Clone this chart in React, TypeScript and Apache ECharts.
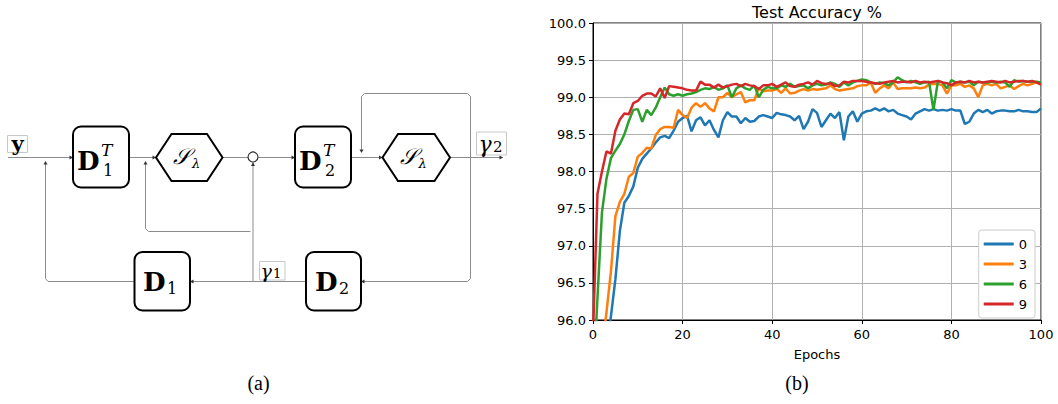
import React, { useEffect, useRef } from "react";
import * as echarts from "echarts";

const epochs: number[] = Array.from({ length: 101 }, (_, i) => i);
const seriesNames = ["0", "3", "6", "9"];
const seriesColors = ["#1f77b4", "#ff7f0e", "#2ca02c", "#d62728"];

const acc0 = [
  93.5, 94.3, 94.9, 95.5, 96.05, 96.55, 97.2, 97.58, 97.67, 97.8,
  98.05, 98.17, 98.24, 98.31, 98.39, 98.46, 98.48, 98.45, 98.55, 98.67,
  98.72, 98.75, 98.54, 98.69, 98.73, 98.62, 98.69, 98.56, 98.46, 98.69,
  98.8, 98.74, 98.74, 98.65, 98.72, 98.67, 98.68, 98.74, 98.76, 98.74,
  98.72, 98.79, 98.77, 98.76, 98.74, 98.69, 98.75, 98.57, 98.67, 98.84,
  98.79, 98.6, 98.69, 98.78, 98.72, 98.8, 98.42, 98.74, 98.81, 98.67,
  98.78, 98.81, 98.82, 98.85, 98.82, 98.85, 98.81, 98.83, 98.78, 98.76,
  98.74, 98.7, 98.78, 98.81, 98.84, 98.82, 98.84, 98.82, 98.83, 98.82,
  98.84, 98.82, 98.82, 98.64, 98.67, 98.78, 98.83, 98.8, 98.83, 98.78,
  98.81, 98.82, 98.82, 98.81, 98.81, 98.83, 98.81, 98.81, 98.8, 98.8, 98.85,
];
const acc3 = [
  94.0, 94.8, 95.6, 96.1, 96.65, 97.4, 97.59, 97.7, 97.93, 97.98,
  98.2, 98.25, 98.32, 98.31, 98.49, 98.57, 98.6, 98.6, 98.59, 98.83,
  98.76, 98.72, 98.86, 98.92, 98.87, 98.92, 98.85, 98.81, 99.0, 99.0,
  99.06, 99.0, 99.04, 99.07, 98.93, 98.96, 98.96, 99.12, 99.08, 99.09,
  99.09, 99.11, 99.06, 99.12, 99.05, 99.06, 99.09, 99.11, 99.09, 99.11,
  99.1, 99.11, 99.12, 99.16, 99.11, 99.09, 99.1, 99.11, 99.12, 99.15,
  99.16, 99.16, 99.2, 99.06, 99.12, 99.16, 99.12, 99.2, 99.11, 99.12,
  99.12, 99.12, 99.13, 99.12, 99.13, 99.17, 99.18, 99.18, 99.16, 99.05,
  99.16, 99.16, 99.18, 99.14, 99.16, 99.12, 99.0, 99.16, 99.18, 99.16,
  99.18, 99.12, 99.14, 99.16, 99.11, 99.15, 99.18, 99.16, 99.18, 99.2, 99.18,
];
const acc6 = [
  95.1, 96.3, 97.45, 97.9, 98.18, 98.28, 98.37, 98.5, 98.68, 98.83,
  98.84, 98.67, 98.83, 98.76, 98.86, 99.0, 99.13, 99.04, 99.02, 99.04,
  99.02, 99.04, 99.05, 99.07, 99.1, 99.12, 99.11, 99.14, 99.1, 99.12,
  99.16, 99.0, 99.12, 99.16, 99.12, 99.1, 99.16, 99.0, 99.1, 99.14,
  99.12, 99.12, 99.16, 99.14, 99.18, 99.14, 99.15, 99.16, 99.12, 99.16,
  99.18, 99.16, 99.17, 99.2, 99.18, 99.14, 99.2, 99.16, 99.2, 99.22,
  99.24, 99.23, 99.2, 99.18, 99.2, 99.19, 99.16, 99.2, 99.27, 99.23,
  99.2, 99.22, 99.2, 99.18, 99.2, 99.21, 98.83, 99.22, 99.2, 99.12,
  99.23, 99.2, 99.21, 99.2, 99.21, 99.16, 99.21, 99.2, 99.2, 99.21,
  99.2, 99.21, 99.2, 99.14, 99.23, 99.21, 99.22, 99.21, 99.21, 99.21, 99.2,
];
const acc9 = [
  95.8, 97.7, 98.0, 98.27, 98.24, 98.55, 98.7, 98.78, 98.77, 98.92,
  98.95, 99.02, 99.05, 99.05, 99.01, 99.12, 98.99, 99.15, 99.14, 99.13,
  99.12, 99.1, 99.09, 99.09, 99.21, 99.17, 99.17, 99.13, 99.17, 99.13,
  99.15, 99.17, 99.18, 99.15, 99.18, 99.16, 99.15, 99.11, 99.16, 99.16,
  99.18, 99.14, 99.17, 99.2, 99.15, 99.14, 99.17, 99.18, 99.2, 99.17,
  99.22, 99.19, 99.18, 99.19, 99.15, 99.16, 99.21, 99.2, 99.22, 99.22,
  99.22, 99.21, 99.2, 99.19, 99.18, 99.2, 99.21, 99.22, 99.2, 99.21,
  99.21, 99.2, 99.22, 99.2, 99.21, 99.2, 99.21, 99.22, 99.2, 99.19,
  99.16, 99.2, 99.21, 99.2, 99.22, 99.2, 99.21, 99.2, 99.21, 99.22,
  99.21, 99.2, 99.22, 99.2, 99.21, 99.22, 99.22, 99.21, 99.22, 99.2, 99.17,
];
const allSeries = [acc0, acc3, acc6, acc9];

const LINE = "#8c8c8c";
const SERIF = '"DejaVu Serif", "Liberation Serif", serif';

const ln = (pts: number[][]) => ({
  type: "polyline",
  silent: true,
  shape: { points: pts },
  style: { stroke: LINE, lineWidth: 1, fill: null },
});
const arrow = (x: number, y: number, dir: string) => {
  const s = 3.5, w = 2;
  let pts: number[][] = [];
  if (dir === "r") pts = [[x - s, y - w], [x, y], [x - s, y + w]];
  if (dir === "l") pts = [[x + s, y - w], [x, y], [x + s, y + w]];
  if (dir === "u") pts = [[x - w, y + s], [x, y], [x + w, y + s]];
  if (dir === "d") pts = [[x - w, y - s], [x, y], [x + w, y - s]];
  return { type: "polygon", silent: true, shape: { points: pts }, style: { fill: "#333", stroke: null } };
};
const box = (x: number, y: number, w: number, h: number) => ({
  type: "rect",
  silent: true,
  shape: { x, y, width: w, height: h, r: 8 },
  style: { fill: "#fff", stroke: "#000", lineWidth: 2 },
});
const labelBox = (x: number, y: number, w: number, h: number) => ({
  type: "rect",
  silent: true,
  shape: { x, y, width: w, height: h },
  style: { fill: "#fff", stroke: "#c8c8c8", lineWidth: 1 },
});
const hex = (l: number, r: number, cy: number) => {
  const ins = 15.5, hh = 23.5;
  return {
    type: "polygon",
    silent: true,
    shape: { points: [[l, cy], [l + ins, cy - hh], [r - ins, cy - hh], [r, cy], [r - ins, cy + hh], [l + ins, cy + hh]] },
    style: { fill: "#fff", stroke: "#000", lineWidth: 2 },
  };
};
const txt = (x: number, y: number, text: string, font: string, align = "left") => ({
  type: "text",
  silent: true,
  x,
  y,
  style: {
    text,
    font,
    fill: "#000",
    align,
    textAlign: align,
    verticalAlign: "middle",
    textVerticalAlign: "middle",
  },
});

const MY = 157.5;
const BY = 281.5;

function diagram(): any[] {
  const els: any[] = [];
  // connection lines
  els.push(ln([[8, MY], [73, MY]]));
  els.push(ln([[129, MY], [156, MY]]));
  els.push(ln([[222.5, MY], [248, MY]]));
  els.push(ln([[258, MY], [295, MY]]));
  els.push(ln([[351, MY], [382.5, MY]]));
  els.push(ln([[450, MY], [503, MY]]));
  // top feedback loop
  els.push(ln([[470.5, BY - 3], [470.5, 96.5], [467.5, 93.5], [364.5, 93.5], [361.5, 96.5], [361.5, 152]]));
  // right-bottom return
  els.push(ln([[470.5, BY - 3], [467.5, BY], [361, BY]]));
  els.push(ln([[306, BY], [190, BY]]));
  // left loop
  els.push(ln([[134.5, BY], [48, BY], [45.5, BY - 3], [45.5, 162]]));
  // gamma1 vertical
  els.push(ln([[253, BY], [253, 163]]));
  // middle loop
  els.push(ln([[250.5, 231.5], [148.5, 231.5], [145.5, 228.5], [145.5, 162]]));

  // arrowheads
  els.push(arrow(73, MY, "r"));
  els.push(arrow(156, MY, "r"));
  els.push(arrow(295, MY, "r"));
  els.push(arrow(382.5, MY, "r"));
  els.push(arrow(503, MY, "r"));
  els.push(arrow(361.5, 153, "d"));
  els.push(arrow(361, BY, "l"));
  els.push(arrow(190, BY, "l"));
  els.push(arrow(45.5, 161, "u"));
  els.push(arrow(145.5, 161, "u"));
  els.push(arrow(253, 162.5, "u"));

  // blocks
  els.push(box(73, 126.5, 56, 61));
  els.push(box(295, 126.5, 56, 61));
  els.push(box(134.5, 252, 55.5, 58.5));
  els.push(box(306, 252, 55, 58.5));
  els.push(hex(156, 222.5, MY));
  els.push(hex(382.5, 450, MY));
  els.push({
    type: "circle",
    silent: true,
    shape: { cx: 253, cy: MY - 0.5, r: 5 },
    style: { fill: "#fff", stroke: "#333", lineWidth: 1.2 },
  });

  // label boxes
  els.push(labelBox(7.5, 135.5, 20, 17));
  els.push(labelBox(476.5, 132, 30, 23));
  els.push(labelBox(259.5, 261.5, 25.5, 18.5));

  // texts
  const bD = `bold 26px ${SERIF}`;
  const itT = `italic 17px ${SERIF}`;
  const sub = `16px ${SERIF}`;
  els.push(txt(17.5, 143, "y", `bold 21px ${SERIF}`, "center"));
  // D1^T
  els.push(txt(77, 161, "D", bD));
  els.push(txt(101, 150, "T", itT));
  els.push(txt(103, 170, "1", sub));
  // D2^T
  els.push(txt(299, 161, "D", bD));
  els.push(txt(323, 150, "T", itT));
  els.push(txt(325, 170, "2", sub));
  // D1, D2
  els.push(txt(143, 282, "D", bD));
  els.push(txt(167, 288, "1", sub));
  els.push(txt(315, 282, "D", bD));
  els.push(txt(339, 288, "2", sub));
  // S_lambda
  els.push(txt(173, 156, "𝒮", `italic 22px ${SERIF}`));
  els.push(txt(192, 163, "λ", `italic 13px ${SERIF}`));
  els.push(txt(399.5, 156, "𝒮", `italic 22px ${SERIF}`));
  els.push(txt(418.5, 163, "λ", `italic 13px ${SERIF}`));
  // gammas
  els.push(txt(478.5, 144, "γ", `italic 22px ${SERIF}`));
  els.push(txt(493, 147, "2", `15px ${SERIF}`));
  els.push(txt(260.5, 271, "γ", `italic 19px ${SERIF}`));
  els.push(txt(273, 273.5, "1", `13px ${SERIF}`));

  // captions
  els.push(txt(258.5, 383, "(a)", `20px "Liberation Serif", serif`, "center"));
  els.push(txt(797, 383, "(b)", `20px "Liberation Serif", serif`, "center"));
  // chart title
  els.push(txt(817, 12, "Test Accuracy %", `16px "DejaVu Sans", sans-serif`, "center"));
  return els;
}

export default function App() {
  const ref = useRef<HTMLDivElement>(null);
  useEffect(() => {
    if (!ref.current) return;
    const chart = echarts.init(ref.current, undefined, { renderer: "svg" });
    const tickFont = { color: "#000", fontSize: 13, fontFamily: '"DejaVu Sans", sans-serif' };
    chart.setOption({
      animation: false,
      backgroundColor: "#fff",
      grid: {
        left: 593,
        right: 17,
        top: 23,
        bottom: 84,
        show: true,
        borderColor: "#000",
        borderWidth: 1,
        backgroundColor: "transparent",
      },
      xAxis: {
        type: "value",
        min: 0,
        max: 100,
        interval: 20,
        name: "Epochs",
        nameLocation: "middle",
        nameGap: 28,
        nameTextStyle: { ...tickFont },
        axisLine: { show: true, onZero: false, lineStyle: { color: "#000", width: 1 } },
        axisTick: { show: true, inside: false, length: 4, lineStyle: { color: "#000" } },
        axisLabel: { ...tickFont, margin: 8 },
        splitLine: { show: true, lineStyle: { color: "#b0b0b0", width: 1 } },
      },
      yAxis: {
        type: "value",
        min: 96,
        max: 100,
        interval: 0.5,
        axisLine: { show: true, onZero: false, lineStyle: { color: "#000", width: 1 } },
        axisTick: { show: true, inside: false, length: 4, lineStyle: { color: "#000" } },
        axisLabel: { ...tickFont, margin: 7, formatter: (v: number) => v.toFixed(1) },
        splitLine: { show: true, lineStyle: { color: "#b0b0b0", width: 1 } },
      },
      legend: {
        orient: "vertical",
        right: 23,
        top: 230,
        data: seriesNames,
        icon: "rect",
        itemWidth: 30,
        itemHeight: 3,
        itemGap: 6,
        textStyle: { ...tickFont, lineHeight: 14 },
        backgroundColor: "#fff",
        borderColor: "#cccccc",
        borderWidth: 1,
        borderRadius: 3,
        padding: [7, 8, 7, 5],
      },
      graphic: { elements: diagram() },
      series: allSeries.map((vals, k) => ({
        name: seriesNames[k],
        type: "line",
        symbol: "none",
        clip: true,
        color: seriesColors[k],
        lineStyle: { width: 2.5, color: seriesColors[k] },
        data: vals.map((v, i) => [epochs[i], v]),
      })),
    });
    return () => chart.dispose();
  }, []);
  return (
    <div
      ref={ref}
      style={{ position: "fixed", left: 0, top: 0, width: 1058, height: 404, background: "#fff" }}
    />
  );
}
